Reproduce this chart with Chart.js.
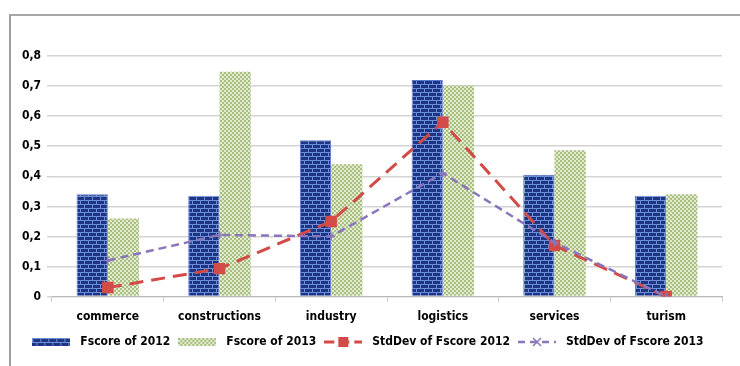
<!DOCTYPE html>
<html>
<head>
<meta charset="utf-8">
<script src="https://cdn.jsdelivr.net/npm/chart.js@4/dist/chart.umd.min.js"></script>
<style>
  body { margin: 0; background: #fff; }
  #frame { position: absolute; left: 9px; top: 14px; width: 740px; height: 400px;
           border-left: 2px solid #a0a0a0; border-top: 2px solid #a8a8a8; }
  #c { position: absolute; left: 0; top: 0; }
</style>
</head>
<body>
<div id="frame"></div>
<canvas id="c" width="740" height="366"></canvas>
<script>
const categories = ["commerce", "constructions", "industry", "logistics", "services", "turism"];
const fscore2012 = [0.34, 0.335, 0.52, 0.72, 0.405, 0.335];
const fscore2013 = [0.26, 0.748, 0.44, 0.703, 0.487, 0.34];
const stdDev2012 = [0.03, 0.093, 0.25, 0.58, 0.17, 0.0];
const stdDev2013 = [0.12, 0.205, 0.2, 0.41, 0.18, 0.0];
const yTicks = [0, 0.1, 0.2, 0.3, 0.4, 0.5, 0.6, 0.7, 0.8];

const FONT = "'Liberation Sans Narrow', 'DejaVu Sans Condensed', Arial, sans-serif";

function brickPattern() {
    const p = document.createElement("canvas");
    p.width = 8; p.height = 8;
    const g = p.getContext("2d");
    g.fillStyle = "#1d3584";
    g.fillRect(0, 0, 8, 8);
    g.fillStyle = "#6d8fd6";
    g.fillRect(0, 0, 8, 1);
    g.fillRect(0, 4, 8, 1);
    g.fillRect(0, 0, 1, 4);
    g.fillRect(4, 4, 1, 4);
    return p;
}

function dotPattern() {
    const p = document.createElement("canvas");
    p.width = 4; p.height = 4;
    const g = p.getContext("2d");
    g.fillStyle = "#e3ebcf";
    g.fillRect(0, 0, 4, 4);
    g.fillStyle = "#a9bf82";
    g.fillRect(0, 0, 2, 2);
    g.fillRect(2, 2, 2, 2);
    return p;
}

const ctx0 = document.createElement("canvas").getContext("2d");
const blueFill = ctx0.createPattern(brickPattern(), "repeat");
const greenFill = ctx0.createPattern(dotPattern(), "repeat");

// legend swatches
function barSwatch(fill) {
    const c = document.createElement("canvas");
    c.width = 38; c.height = 8;
    const g = c.getContext("2d");
    g.fillStyle = fill;
    g.fillRect(0, 0, 38, 8);
    return c;
}
function lineSwatch(color, dash, width, marker) {
    const c = document.createElement("canvas");
    c.width = 38; c.height = 12;
    const g = c.getContext("2d");
    g.strokeStyle = color;
    g.lineWidth = width;
    g.setLineDash(dash);
    g.beginPath(); g.moveTo(0, 6); g.lineTo(38, 6); g.stroke();
    g.setLineDash([]);
    if (marker == "rect") {
        g.fillStyle = color;
        g.fillRect(14, 1, 10, 10);
    } else {
        g.lineWidth = 1.5;
        g.beginPath();
        g.moveTo(15, 2); g.lineTo(23, 10);
        g.moveTo(23, 2); g.lineTo(15, 10);
        g.stroke();
    }
    return c;
}

const swatches = [
    barSwatch(ctx0.createPattern(brickPattern(), "repeat")),
    barSwatch(ctx0.createPattern(dotPattern(), "repeat")),
    lineSwatch("#d34b47", [10, 5], 3, "rect"),
    lineSwatch("#8a76bd", [7, 5], 2.5, "cross")
];

new Chart(document.getElementById("c"), {
    type: "bar",
    data: {
        labels: categories,
        datasets: [
            {
                label: "Fscore of 2012",
                data: fscore2012,
                backgroundColor: blueFill,
                borderColor: "#5b7ccc",
                borderWidth: 1,
                categoryPercentage: 0.56,
                barPercentage: 1.0,
                order: 2
            },
            {
                label: "Fscore of 2013",
                data: fscore2013,
                backgroundColor: greenFill,
                categoryPercentage: 0.56,
                barPercentage: 1.0,
                order: 2
            },
            {
                type: "line",
                label: "StdDev of Fscore 2012",
                data: stdDev2012,
                borderColor: "#d34b47",
                borderWidth: 3,
                borderDash: [14, 8],
                pointStyle: "rect",
                pointRadius: 6,
                pointBackgroundColor: "#d34b47",
                pointBorderColor: "#d34b47",
                tension: 0,
                order: 1
            },
            {
                type: "line",
                label: "StdDev of Fscore 2013",
                data: stdDev2013,
                borderColor: "#8a76bd",
                borderWidth: 2.5,
                borderDash: [8, 5],
                pointStyle: "cross",
                pointRadius: 4,
                pointBorderColor: "#8a76bd",
                pointBorderWidth: 1.5,
                tension: 0,
                order: 0
            }
        ]
    },
    options: {
        responsive: false,
        animation: false,
        layout: { padding: { left: 10, right: 18, top: 56, bottom: 8 } },
        plugins: {
            legend: {
                position: "bottom",
                labels: {
                    usePointStyle: true,
                    pointStyleWidth: 46,
                    padding: 4,
                    color: "#000",
                    font: { family: FONT, size: 12, weight: "bold" },
                    generateLabels: (chart) => chart.data.datasets.map((ds, i) => ({
                        text: ds.label,
                        pointStyle: swatches[i],
                        fontColor: "#000",
                        lineWidth: 0,
                        datasetIndex: i
                    }))
                }
            },
            tooltip: { enabled: false }
        },
        scales: {
            x: {
                grid: { display: true, drawOnChartArea: false, tickLength: 5, color: "#c8c8c8", offset: true },
                border: { color: "#b8b8b8" },
                ticks: { color: "#000", padding: 8, font: { family: FONT, size: 12, weight: "bold" } }
            },
            y: {
                min: 0,
                max: 0.8,
                afterBuildTicks: (scale) => { scale.ticks = yTicks.map(v => ({ value: v })); },
                afterFit: (scale) => { scale.width = 42; },
                grid: { color: "#d4d4d4", lineWidth: 1.5, tickLength: 5 },
                border: { display: false },
                ticks: {
                    color: "#000",
                    padding: 6,
                    font: { family: FONT, size: 12, weight: "bold" },
                    callback: (v) => v == 0 ? "0" : v.toFixed(1).replace(".", ",")
                }
            }
        }
    }
});
</script>
</body>
</html>
